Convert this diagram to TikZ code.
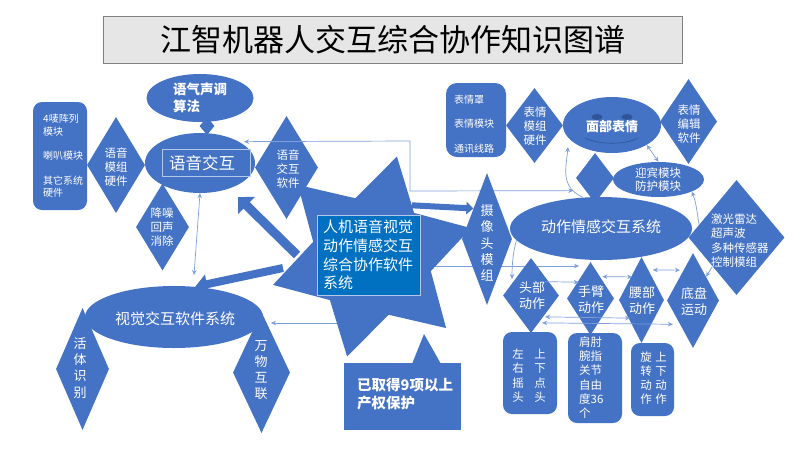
\documentclass[tikz,border=0pt]{standalone}
\usepackage{fontspec}
\setmainfont{Noto Sans CJK SC}
\usetikzlibrary{shapes.geometric, arrows.meta}
\definecolor{mainblue}{HTML}{4472C4}
\definecolor{darkblue}{HTML}{2F5597}
\definecolor{linkblue}{HTML}{7F9FDB}
\definecolor{coreblue}{HTML}{0070C0}
\definecolor{paleblue}{HTML}{B4C7E7}
\definecolor{titlegray}{HTML}{E7E6E6}
\tikzset{
  bluediamond/.style={diamond, fill=mainblue, inner sep=0pt},
  blueellipse/.style={ellipse, fill=mainblue, inner sep=0pt},
  bluebox/.style={rectangle, rounded corners=9pt, fill=mainblue, inner sep=0pt},
  whitetext/.style 2 args={text=white, align=center, inner sep=0pt, font=\fontsize{#1}{#2}\selectfont},
  sidetext/.style 2 args={text=white, align=left, anchor=west, inner sep=0pt, font=\fontsize{#1}{#2}\selectfont},
  boldtext/.style 2 args={text=white, align=left, inner sep=0pt, font=\fontsize{#1}{#2}\selectfont\bfseries},
  link/.style={draw=linkblue, line width=0.7pt, -{Stealth[length=5pt,width=4.5pt]}},
  twolink/.style={draw=linkblue, line width=0.7pt, {Stealth[length=5pt,width=4.5pt]}-{Stealth[length=5pt,width=4.5pt]}},
  blockarrow/.style={draw=mainblue, line width=#1}
}

\begin{document}
\begin{tikzpicture}[x=1pt,y=1pt]
\useasboundingbox (0,0) rectangle (800,-451);
\fill[white] (0,0) rectangle (800,-451);

% Title bar
\node[rectangle, draw=gray, fill=titlegray, minimum width=579pt, minimum height=47pt, inner sep=0pt, text=black, font=\fontsize{31}{36}\selectfont] (title) at (392.5,-39.5) {江智机器人交互综合协作知识图谱};

% Voice group
\node[blueellipse, minimum width=107pt, minimum height=48pt] (tone) at (200,-98) {};
\node[bluediamond, minimum width=15pt, minimum height=18pt] (tonejoin) at (207,-126) {};
\node[blueellipse, minimum width=110pt, minimum height=60pt] (voice) at (200,-163) {};
\node[rectangle, draw=paleblue, line width=0.6pt, minimum width=88pt, minimum height=27pt] (voiceframe) at (206.5,-163) {};
\node[bluebox, minimum width=54pt, minimum height=108pt] (voiceparts) at (60,-156) {};
\node[bluediamond, minimum width=58pt, minimum height=96pt] (voicehard) at (116,-165) {};
\node[bluediamond, minimum width=53pt, minimum height=87pt] (denoise) at (162.5,-227) {};
\node[bluediamond, minimum width=63pt, minimum height=103pt] (voicesoft) at (286.5,-167.5) {};

\node[boldtext={13.5}{17}] (tonetext) at (200,-98) {语气声调\\算法};
\node[whitetext={16.5}{20}] (voicetext) at (202,-163) {语音交互};
\node[sidetext={10}{12.3}] (voicepartstext) at (43,-156) {4唛阵列\\模块\\[12.3pt]喇叭模块\\[12.3pt]其它系统\\硬件};
\node[whitetext={11.5}{14}] (voicehardtext) at (116,-167) {语音\\模组\\硬件};
\node[whitetext={11.5}{14}] (denoisetext) at (162,-227) {降噪\\回声\\消除};
\node[whitetext={11.5}{14}] (voicesofttext) at (288,-169) {语音\\交互\\软件};

% Vision group
\node[blueellipse, minimum width=178pt, minimum height=62pt] (vision) at (174,-317) {};
\node[bluediamond, minimum width=53pt, minimum height=122pt] (living) at (82.5,-369) {};
\node[bluediamond, minimum width=57pt, minimum height=121pt] (things) at (261.5,-372.5) {};
\node[whitetext={15}{19}] (visiontext) at (175,-319) {视觉交互软件系统};
\node[whitetext={13}{16.2}] (livingtext) at (80,-368) {活\\体\\识\\别};
\node[whitetext={13}{16.2}] (thingstext) at (261,-370) {万\\物\\互\\联};

% Face group
\node[bluebox, minimum width=60pt, minimum height=74pt, rounded corners=11pt] (faceparts) at (476,-120) {};
\node[bluediamond, minimum width=57pt, minimum height=75pt] (facehard) at (534.5,-125.5) {};
\node[blueellipse, minimum width=98pt, minimum height=56pt] (face) at (612,-125) {};
\node[bluediamond, minimum width=57pt, minimum height=85pt] (faceedit) at (688.5,-121.5) {};
\node[bluediamond, minimum width=38pt, minimum height=50pt] (blank) at (595,-178) {};
\node[blueellipse, minimum width=91pt, minimum height=35pt] (greet) at (658.5,-179.5) {};
\node[ellipse, fill=darkblue, minimum width=11pt, minimum height=6pt, inner sep=0pt] (eyeleft) at (597,-117) {};
\node[ellipse, fill=darkblue, minimum width=11pt, minimum height=6pt, inner sep=0pt] (eyeright) at (627,-117) {};
\draw[darkblue, line width=0.6pt] (585,-138) .. controls (600,-145) and (625,-145) .. (638,-138);

\node[sidetext={10}{12.3}] (facepartstext) at (454,-124) {表情罩\\[12.3pt]表情模块\\[12.3pt]通讯线路};
\node[whitetext={11.5}{14}] (facehardtext) at (535,-126) {表情\\模组\\硬件};
\node[boldtext={13}{16}] (facetext) at (612,-127) {面部表情};
\node[whitetext={11.5}{14}] (faceedittext) at (689,-124) {表情\\编辑\\软件};
\node[whitetext={11.5}{13.5}] (greettext) at (658,-179.5) {迎宾模块\\防护模块};

% Long links stay under the shapes
\coordinate (bendtop) at (410,-141);
\coordinate (bendlow) at (410,-191);
\draw[twolink, shorten <=5pt, shorten >=12pt] (voice.north east) -- (bendtop) -- (bendlow) -- (blank.south west);
\coordinate (armtip) at (579,-266);
\coordinate (armtail) at (433,-266);
\draw[link] (armtail) -- (armtip);

% Camera and motion group
\node[bluediamond, minimum width=50pt, minimum height=132pt] (camera) at (487,-239) {};
\node[blueellipse, minimum width=182pt, minimum height=63pt] (motion) at (601,-228.5) {};
\node[bluediamond, minimum width=96pt, minimum height=115pt] (sensor) at (736.5,-237.5) {};
\node[bluediamond, minimum width=56pt, minimum height=75pt] (head) at (531,-295.5) {};
\node[bluediamond, minimum width=47pt, minimum height=73pt] (arm) at (590.5,-298.5) {};
\node[bluediamond, minimum width=45pt, minimum height=86pt] (waist) at (641.5,-300) {};
\node[bluediamond, minimum width=52pt, minimum height=95pt] (chassis) at (693,-300.5) {};
\node[bluebox, minimum width=54pt, minimum height=82pt] (headbox) at (530,-373) {};
\node[bluebox, minimum width=54pt, minimum height=90pt] (armbox) at (595,-378) {};
\node[bluebox, minimum width=43pt, minimum height=73pt] (waistbox) at (652.5,-379.5) {};

\node[whitetext={13}{16.2}] (cameratext) at (487,-243) {摄\\像\\头\\模\\组};
\node[whitetext={15}{19}] (motiontext) at (601,-227) {动作情感交互系统};
\node[sidetext={11.5}{14.4}] (sensortext) at (711,-240.5) {激光雷达\\超声波\\多种传感器\\控制模组};
\node[whitetext={13}{16}] (headtext) at (532,-296) {头部\\动作};
\node[whitetext={13}{16}] (armtext) at (591,-300) {手臂\\动作};
\node[whitetext={13}{16}] (waisttext) at (642,-301) {腰部\\动作};
\node[whitetext={13}{16}] (chassistext) at (694,-302) {底盘\\运动};
\node[whitetext={11.5}{14.4}] (headboxleft) at (518,-375.5) {左\\右\\摇\\头};
\node[whitetext={11.5}{14.4}] (headboxright) at (540,-375.5) {上\\下\\点\\头};
\node[sidetext={11.5}{14.2}] (armboxtext) at (579,-377.5) {肩肘\\腕指\\关节\\自由\\度36\\个};
\node[whitetext={11.5}{14.2}] (waistboxleft) at (646,-378) {旋\\转\\动\\作};
\node[whitetext={11.5}{14.2}] (waistboxright) at (661,-378) {上\\下\\动\\作};

% Star with its software box
\coordinate (thingstip) at (271,-323);
\coordinate (thingstail) at (345,-323);
\draw[link] (thingstail) -- (thingstip);
\node[star, star points=6, star point ratio=1.7, shape border rotate=-14, minimum size=206pt, inner sep=0pt, fill=mainblue] (hub) at (372,-256.5) {};
\node[rectangle, draw=paleblue, line width=0.6pt, fill=coreblue, text=white, align=left, text width=91pt, inner xsep=6pt, inner ysep=0pt, minimum height=80pt, font=\fontsize{15}{18.7}\selectfont] (core) at (368.5,-255) {人机语音视觉\\动作情感交互\\综合协作软件\\系统};

% Patent note
\node[rectangle, fill=mainblue, minimum width=117pt, minimum height=67pt, inner sep=0pt] (patent) at (402.5,-396.5) {};
\fill[mainblue] (412,-364) -- (424,-334) -- (441,-364) -- cycle;
\node[boldtext={14.5}{18}, anchor=west] (patenttext) at (357,-394) {已取得9项以上\\产权保护};

% Block arrows
\coordinate (voicetip) at (238,-197);
\coordinate (voicetail) at (297,-255);
\coordinate (visiontail) at (283,-268);
\draw[blockarrow=9pt, -{Triangle[length=12pt,width=23pt]}] (voicetail) -- (voicetip);
\draw[blockarrow=8pt, -{Triangle[length=12pt,width=19pt]}] (visiontail) -- (vision.55);
\draw[blockarrow=6pt, -{Triangle[length=7pt,width=12pt]}] (hub.52) -- (camera.114);

% Thin links
\coordinate (visiontop) at (194,-275);
\draw[twolink] (voice.south) -- (visiontop);
\coordinate (facetip) at (568,-147);
\draw[link] (motion.120) .. controls (560,-187) and (566,-168) .. (facetip);
\draw[link] (motion.188) .. controls (513,-252) and (512,-265) .. (512,-279);
\draw[twolink] (face.south east) -- (greet.north);
\draw[link] (sensor.161) .. controls (697,-212) and (696,-202) .. (greet.-20);
\draw[link] (sensor.south west) -- (chassis.north east);
\draw[twolink] ([yshift=6.5pt]chassis.north west) -- ([yshift=8.5pt]waist.north east);
\draw[twolink] ([yshift=3.5pt]arm.north east) -- ([xshift=2pt,yshift=1.5pt]waist.north west);
\draw[link] ([yshift=-5pt]head.north east) -- ([yshift=-2pt]arm.north west);
\draw[twolink] ([yshift=-2.5pt]head.south east) -- ([yshift=3.5pt]waist.south west);
\draw[twolink, shorten >=7pt] ([xshift=-3pt,yshift=-8.5pt]head.south east) -- (chassis.south west);
\end{tikzpicture}
\end{document}
